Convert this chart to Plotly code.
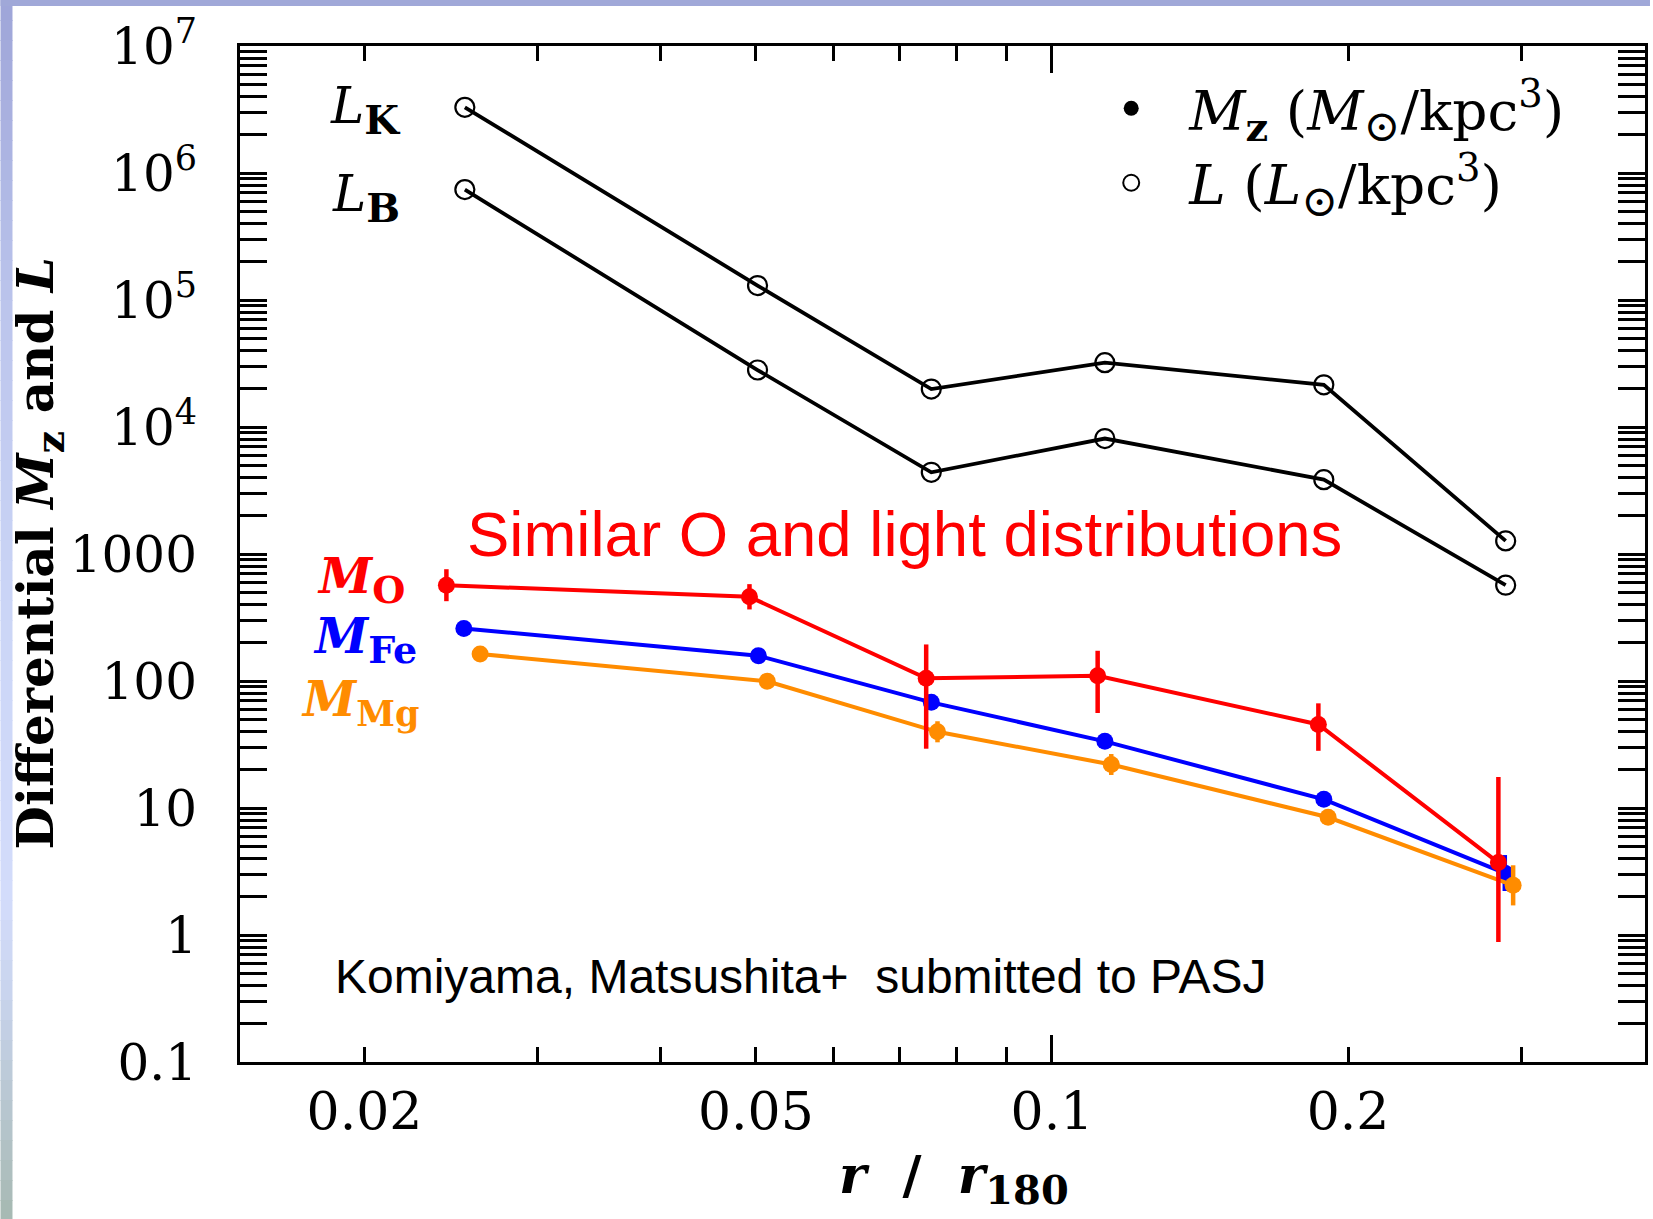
import plotly.graph_objects as go

# ---------------- data ----------------
r_L = [0.0253, 0.0502, 0.0754, 0.1132, 0.189, 0.2893]
L_K = [3.29e6, 1.30e5, 1.99e4, 3.21e4, 2.15e4, 1268]
L_B = [7.4e5, 2.81e4, 4.40e3, 8.11e3, 3.85e3, 568]

r_O = [0.02423, 0.04926, 0.0745, 0.1113, 0.1866, 0.2844]
M_O = [568, 460, 105, 110, 45.5, 3.72]
M_O_err_up = [191, 119, 89, 63, 21.2, 13.8]
M_O_err_dn = [143, 94, 75.7, 54, 17.3, 2.84]

r_Fe = [0.02524, 0.0503, 0.0754, 0.1132, 0.189, 0.2887]
M_Fe = [259, 158, 67.9, 33.5, 11.7, 3.07]
M_Fe_err_up = [0, 0, 0, 0, 0, 1.19]
M_Fe_err_dn = [0, 0, 0, 0, 0, 0.85]

r_Mg = [0.02622, 0.05135, 0.0765, 0.1149, 0.1909, 0.2944]
M_Mg = [163, 99.6, 39.8, 22.0, 8.45, 2.46]
M_Mg_err_up = [0, 0, 8.4, 4.6, 0, 1.08]
M_Mg_err_dn = [0, 0, 6.9, 3.8, 0, 0.75]

x_tickvals = [0.02, 0.05, 0.1, 0.2]
x_ticktext = ["0.02", "0.05", "0.1", "0.2"]
y_tickvals = [0.1, 1, 10, 100, 1000, 1e4, 1e5, 1e6, 1e7]
y_ticktext = ["0.1", "1", "10", "100", "1000",
              "10<sup>4</sup>", "10<sup>5</sup>", "10<sup>6</sup>", "10<sup>7</sup>"]

# ---------------- styling ----------------
W, H = 1653, 1219
ML, MR, MT, MB = 240, 5, 46, 157
PW, PH = W - ML - MR, H - MT - MB
SERIF = "DejaVu Serif"
SANS = "Liberation Sans, Arial"
RED, BLUE, ORANGE = "#ff0000", "#0000ff", "#ff8c00"


def px(x):
    return (x - ML) / PW


def py(y):
    return (H - MB - y) / PH


def sub(t, size):
    return '<sub><span style="font-size:%dpx">%s</span></sub>' % (size, t)


fig = go.Figure()

for yv, nm in [(L_K, "L_K"), (L_B, "L_B")]:
    fig.add_trace(go.Scatter(
        x=r_L, y=yv, mode="lines+markers", name=nm, showlegend=False,
        line=dict(color="black", width=3.8),
        marker=dict(symbol="circle-open", size=19, color="black",
                    line=dict(width=2.2, color="black")),
    ))

for xs, ys, eu, ed, col, nm in [
    (r_Fe, M_Fe, M_Fe_err_up, M_Fe_err_dn, BLUE, "M_Fe"),
    (r_Mg, M_Mg, M_Mg_err_up, M_Mg_err_dn, ORANGE, "M_Mg"),
    (r_O, M_O, M_O_err_up, M_O_err_dn, RED, "M_O"),
]:
    fig.add_trace(go.Scatter(
        x=xs, y=ys, mode="lines+markers", name=nm, showlegend=False,
        line=dict(color=col, width=4),
        marker=dict(symbol="circle", size=17, color=col),
        error_y=dict(type="data", symmetric=False, array=eu, arrayminus=ed,
                     color=col, thickness=4.5, width=0),
    ))

# legend-only entries
fig.add_trace(go.Scatter(
    x=[None], y=[None], mode="markers", xaxis="x2",
    name="<i>M</i>" + sub("<b>z</b>", 40) + " (<i>M</i>" + sub("⊙", 44) + "/kpc<sup>3</sup>)",
    marker=dict(symbol="circle", size=15, color="black"),
))
fig.add_trace(go.Scatter(
    x=[None], y=[None], mode="markers", xaxis="x2",
    name="<i>L</i> (<i>L</i>" + sub("⊙", 44) + "/kpc<sup>3</sup>)",
    marker=dict(symbol="circle-open", size=17, color="black", line=dict(width=2)),
))

xrange = [-1.8255, -0.397]
yrange = [-1, 7]

fig.update_layout(
    width=W, height=H,
    margin=dict(l=ML, r=MR, t=MT, b=MB, pad=0),
    paper_bgcolor="white", plot_bgcolor="white",
    font=dict(family=SERIF, color="black"),
    xaxis=dict(
        type="log", range=xrange, showgrid=False, zeroline=False,
        showline=True, linecolor="black", linewidth=3, mirror="allticks",
        ticks="inside", ticklen=15, tickwidth=2.5, tickcolor="black",
        tickvals=x_tickvals, ticktext=x_ticktext,
        tickfont=dict(family=SERIF, size=52, color="black"),
        ticklabelstandoff=2,
        minor=dict(ticks="inside", ticklen=15, tickwidth=2.5, tickcolor="black", dtick="D1"),
    ),
    xaxis2=dict(
        type="log", range=xrange, overlaying="x", anchor="y", side="bottom",
        showgrid=False, zeroline=False, showline=False, mirror="ticks",
        ticks="inside", ticklen=27, tickwidth=2.5, tickcolor="black",
        tickvals=[0.1], showticklabels=False,
    ),
    yaxis=dict(
        type="log", range=yrange, showgrid=False, zeroline=False,
        showline=True, linecolor="black", linewidth=3, mirror="allticks",
        ticks="inside", ticklen=27, tickwidth=2.5, tickcolor="black",
        tickvals=y_tickvals, ticktext=y_ticktext,
        tickfont=dict(family=SERIF, size=50, color="black"),
        ticklabelstandoff=30,
        minor=dict(ticks="inside", ticklen=14, tickwidth=2.5, tickcolor="black", dtick="D1"),
    ),
    showlegend=True,
    legend=dict(
        x=px(1075), y=py(66), xanchor="left", yanchor="top",
        bgcolor="rgba(0,0,0,0)", borderwidth=0,
        font=dict(family=SERIF, size=55, color="black"),
        itemwidth=106, tracegroupgap=0,
    ),
)

ann = []


def add_text(text, x, y, size, color="black", family=SERIF, xanchor="center", angle=0):
    ann.append(dict(text=text, x=px(x), y=py(y), xref="paper", yref="paper",
                    xanchor=xanchor, yanchor="middle", textangle=angle, showarrow=False,
                    font=dict(family=family, size=size, color=color)))


add_text("Similar O and light distributions", 906, 534, 63.5, RED, SANS)
add_text("Komiyama, Matsushita+\u00a0 submitted to PASJ", 333, 976, 48, "black", SANS, "left")
add_text("<b>Differential <i>M</i>" + sub("z", 40) + " and <i>L</i></b>", 39, 553, 50, angle=-90)
add_text("<b><i>r</i>  /  <i>r</i>" + sub("180", 40) + "</b>", 956, 1178, 52)
add_text("<i>L</i>" + sub("<b>K</b>", 40), 402, 110, 50, xanchor="right")
add_text("<i>L</i>" + sub("<b>B</b>", 40), 402, 198, 50, xanchor="right")
for sb, col, xr, yc, ss in [("O", RED, 407, 580, 38), ("Fe", BLUE, 419, 640, 38),
                            ("Mg", ORANGE, 421, 702, 35)]:
    add_text("<b><i>M</i></b>" + sub("<b>%s</b>" % sb, ss), xr, yc, 48, col, xanchor="right")
fig.update_layout(annotations=ann)

# decorative slide background strips (left gradient + top band)
stops = [(0, (158, 165, 216)), (300, (187, 196, 236)), (600, (203, 213, 246)),
         (900, (211, 220, 251)), (1000, (200, 211, 236)), (1219, (166, 185, 178))]


def col_at(yy):
    for (y0, c0), (y1, c1) in zip(stops[:-1], stops[1:]):
        if y0 <= yy <= y1:
            t = (yy - y0) / (y1 - y0)
            return "rgb(%d,%d,%d)" % tuple(round(a + (b - a) * t) for a, b in zip(c0, c1))
    return "rgb(%d,%d,%d)" % stops[-1][1]


shapes = []
step = 20
for y0 in range(0, H, step):
    y1 = min(H, y0 + step + 1)
    shapes.append(dict(type="rect", xref="paper", yref="paper",
                       x0=px(0), x1=px(12), y0=py(y0), y1=py(y1),
                       fillcolor=col_at(y0 + step / 2), line=dict(width=0), layer="below"))
shapes.append(dict(type="rect", xref="paper", yref="paper",
                   x0=px(0), x1=px(W), y0=py(0), y1=py(6),
                   fillcolor="rgb(160,168,216)", line=dict(width=0), layer="below"))
fig.update_layout(shapes=shapes)

fig.write_html("out.html")
